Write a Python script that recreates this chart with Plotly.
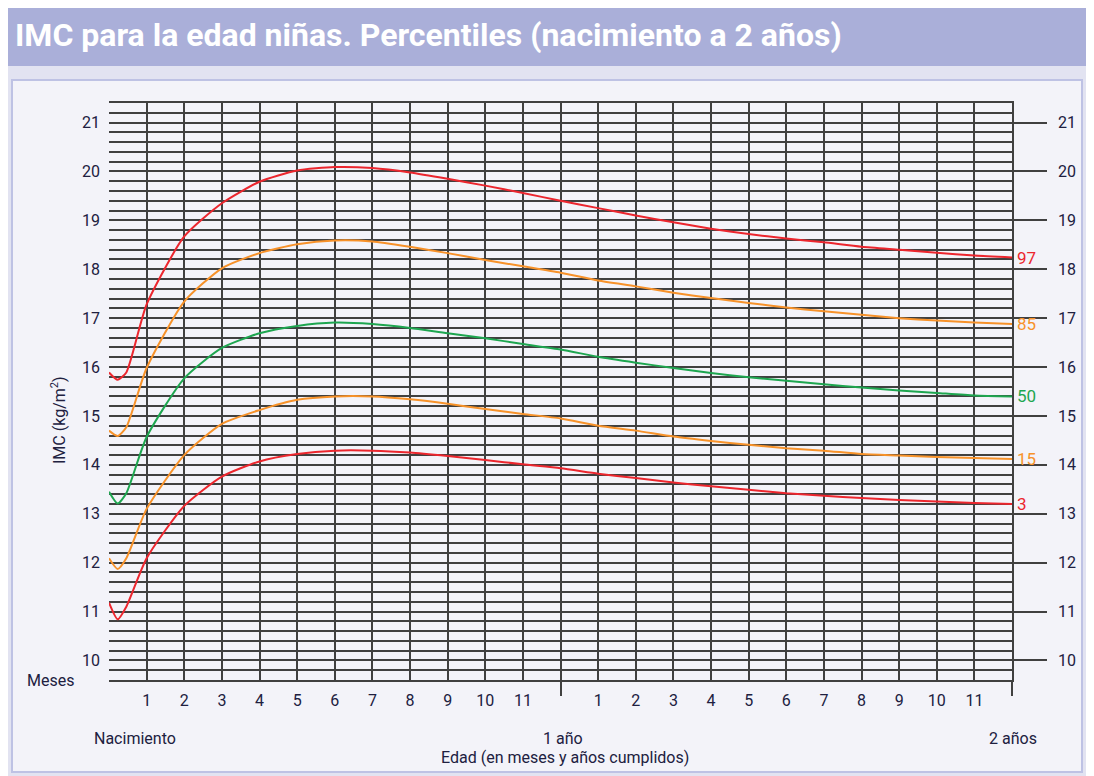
"""
BMI-for-age chart for girls (birth to 2 years), percentile curves on a dense grid.
"""
import plotly.graph_objects as go

# age in months (birth, 1 and 2 weeks, then monthly up to 24)
months = [0, 0.23, 0.46] + list(range(1, 25))

p97 = [15.89, 15.74, 15.89, 17.28, 18.67, 19.35, 19.79, 20.02, 20.09, 20.07, 19.98, 19.85, 19.71,
       19.56, 19.40, 19.25, 19.10, 18.96, 18.83, 18.72, 18.63, 18.55, 18.46, 18.40, 18.34, 18.28, 18.24]
p85 = [14.70, 14.59, 14.77, 15.98, 17.34, 18.02, 18.33, 18.51, 18.59, 18.57, 18.46, 18.33, 18.19,
       18.06, 17.93, 17.77, 17.65, 17.52, 17.41, 17.31, 17.22, 17.14, 17.07, 17.00, 16.95, 16.91, 16.88]
p50 = [13.45, 13.21, 13.42, 14.57, 15.77, 16.39, 16.69, 16.84, 16.91, 16.88, 16.80, 16.69, 16.59,
       16.47, 16.36, 16.21, 16.09, 15.98, 15.88, 15.79, 15.72, 15.65, 15.58, 15.52, 15.47, 15.42, 15.40]
p15 = [12.09, 11.87, 12.09, 13.10, 14.20, 14.84, 15.12, 15.33, 15.40, 15.40, 15.34, 15.25, 15.14,
       15.04, 14.95, 14.80, 14.70, 14.58, 14.49, 14.41, 14.34, 14.29, 14.22, 14.19, 14.16, 14.14, 14.12]
p3 = [11.18, 10.84, 11.10, 12.09, 13.16, 13.76, 14.07, 14.22, 14.29, 14.29, 14.25, 14.18, 14.10,
      14.01, 13.93, 13.82, 13.73, 13.64, 13.56, 13.49, 13.42, 13.37, 13.32, 13.28, 13.25, 13.22, 13.20]

percentile_names = ['97', '85', '50', '15', '3']
percentile_colors = ['#EC262E', '#F7922A', '#1EA650', '#F7922A', '#EC262E']

# month ticks of the first and second year; 12 and 24 are the year marks
month_ticks = list(range(1, 12)) + list(range(13, 24))
month_labels = [str(m) for m in range(1, 12)] * 2
year_ticks = [12, 24]
imc_ticks = list(range(10, 22))

FONT = "Roboto, Liberation Sans, sans-serif"
INK = '#202040'
GRID = '#404040'

# the page body has an 8px margin, so the figure starts at page pixel (8, 8)
OFF = 8
PAGE_W, PAGE_H = 1094, 776
W, H = PAGE_W - OFF, PAGE_H - OFF
L, T = 109 - OFF, 103 - OFF
R, B = PAGE_W - 1012, PAGE_H - 680
PW, PH = W - L - R, H - T - B


def px_x(px):
    """page pixel -> paper x"""
    return (px - OFF - L) / PW


def px_y(py):
    """page pixel -> paper y"""
    return (H - B - (py - OFF)) / PH


fig = go.Figure()

series = [p97, p85, p50, p15, p3]
for name, vals, color in zip(percentile_names, series, percentile_colors):
    fig.add_trace(go.Scatter(x=months, y=vals, mode='lines', name=name,
                             line=dict(color=color, width=2, shape='spline', smoothing=0.6),
                             showlegend=False, hoverinfo='skip'))
    fig.add_annotation(x=months[-1], y=vals[-1], text=name, showarrow=False,
                       xanchor='left', yanchor='middle', xshift=3,
                       font=dict(family=FONT, size=17, color=color))

# helper traces so the overlay axes are drawn
fig.add_trace(go.Scatter(x=[], y=[], yaxis='y2', showlegend=False))
fig.add_trace(go.Scatter(x=[], y=[], xaxis='x2', showlegend=False))

fig.update_layout(
    width=W, height=H,
    margin=dict(l=L, r=R, t=T, b=B),
    paper_bgcolor='#E2E3F1',
    plot_bgcolor='#F3F3F9',
    font=dict(family=FONT, size=16, color=INK),
    title=dict(text='<b>IMC para la edad niñas. Percentiles (nacimiento a 2 años)</b>',
               x=(15 - OFF) / W, xref='container', xanchor='left',
               y=1 - (35 - OFF) / H, yref='container', yanchor='middle',
               font=dict(family=FONT, size=32, color='white')),
    xaxis=dict(range=[0, 24], tickvals=month_ticks, ticktext=month_labels,
               ticks='', showgrid=True, gridcolor=GRID, gridwidth=1.6,
               showline=True, mirror=True, linecolor=GRID, linewidth=1.6,
               zeroline=False, ticklabelstandoff=5, tickfont=dict(size=16, color=INK)),
    xaxis2=dict(range=[0, 24], overlaying='x', side='bottom', tickvals=year_ticks,
                ticks='outside', ticklen=15, tickwidth=1.6, tickcolor=GRID,
                showticklabels=False, showgrid=True, gridcolor=GRID, gridwidth=1.6,
                zeroline=False),
    yaxis=dict(range=[9.6, 21.4], tickvals=imc_ticks, ticks='',
               showgrid=True, gridcolor=GRID, gridwidth=1.6, zeroline=False,
               minor=dict(tick0=9.6, dtick=0.2, showgrid=True, gridcolor=GRID, gridwidth=1.6),
               ticklabelstandoff=8, tickfont=dict(size=16, color=INK)),
    yaxis2=dict(range=[9.6, 21.4], overlaying='y', side='right', tickvals=imc_ticks,
                ticks='outside', ticklen=33, tickwidth=1.6, tickcolor=GRID,
                showline=True, linecolor=GRID, linewidth=1.6,
                showgrid=False, zeroline=False, ticklabelstandoff=8,
                tickfont=dict(size=16, color=INK)),
    shapes=[
        # title bar
        dict(type='rect', xref='paper', yref='paper', layer='below',
             x0=px_x(OFF), x1=px_x(PAGE_W), y0=px_y(66), y1=px_y(OFF),
             fillcolor='#AAAFD9', line=dict(width=0)),
        # inner panel
        dict(type='rect', xref='paper', yref='paper', layer='below',
             x0=px_x(12), x1=px_x(1082), y0=px_y(772), y1=px_y(80),
             fillcolor='#F3F3F9', line=dict(color='#BEC2E4', width=2)),
    ],
)

labels = [
    ('Meses', px_x(50), px_y(680), 0),
    ('Nacimiento', px_x(135), px_y(738), 0),
    ('1 año', px_x(563), px_y(738), 0),
    ('2 años', px_x(1013), px_y(738), 0),
    ('Edad (en meses y años cumplidos)', px_x(565), px_y(757), 0),
    ('IMC (kg/m<sup>2</sup>)', px_x(58), px_y(420), -90),
]
for text, x, y, angle in labels:
    fig.add_annotation(x=x, y=y, xref='paper', yref='paper', text=text, showarrow=False,
                       xanchor='center', yanchor='middle', textangle=angle,
                       font=dict(family=FONT, size=16, color=INK))

fig.write_html("out.html")
